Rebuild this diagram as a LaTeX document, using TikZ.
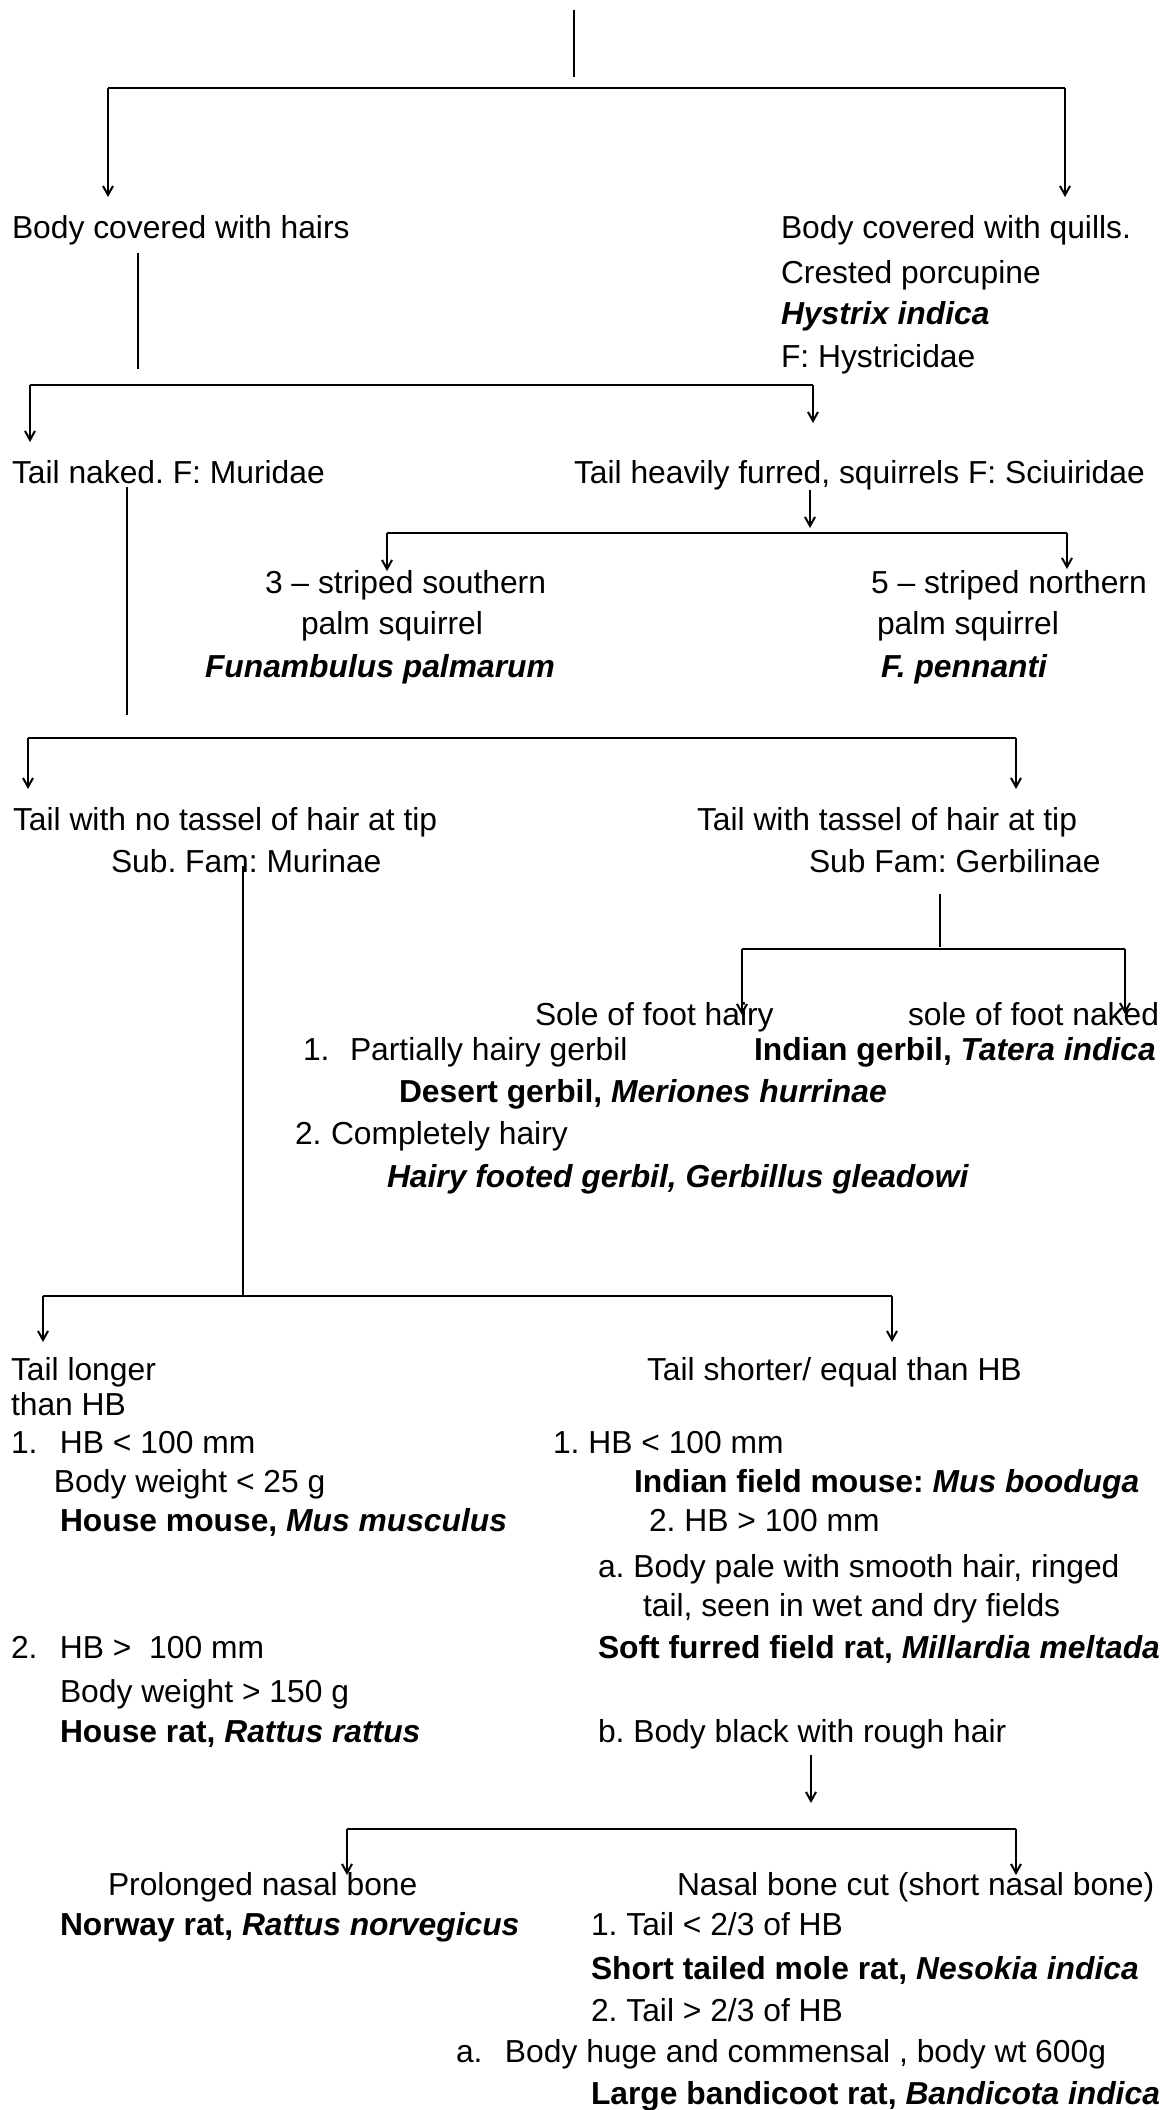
\documentclass[tikz,border=0pt]{standalone}
\usepackage{fontspec}
\setmainfont{Liberation Sans}
\usetikzlibrary{arrows.meta}
\newcommand{\bi}[1]{\textbf{\textit{#1}}}
\newcommand{\numbox}[2]{\makebox[#1][l]{#2}}
\frenchspacing
\begin{document}
\begin{tikzpicture}[x=0.5pt,y=-0.5pt,
  txt/.style={anchor=base west,inner sep=0pt,outer sep=0pt,font=\fontsize{15.9}{19}\selectfont\frenchspacing},
  ln/.style={line width=1pt},
  hl/.style={line width=1.2pt},
  arr/.style={line width=1pt,-{Straight Barb[length=4.5pt,width=5pt]}}]
\fill[white] (0,0) rectangle (1167,2110);
\useasboundingbox (0,0) rectangle (1167,2110);

% ---------------- texts ----------------
\node[txt] (bch) at (12,238) {Body covered with hairs};
\node[txt] (bcq) at (781,238) {Body covered with quills.};
\node[txt] (crp) at (781,283) {Crested porcupine};
\node[txt] (hys) at (781,324) {\bi{Hystrix indica}};
\node[txt] (hyf) at (781,367) {F: Hystricidae};

\node[txt] (tn) at (12,483) {Tail naked. F: Muridae};
\node[txt] (thf) at (574,483) {Tail heavily furred, squirrels F: Sciuiridae};

\node[txt] (s3a) at (265,593) {3 – striped southern};
\node[txt] (s3b) at (301,634) {palm squirrel};
\node[txt] (s3c) at (205,677) {\bi{Funambulus palmarum}};
\node[txt] (s5a) at (871,593) {5 – striped northern};
\node[txt] (s5b) at (877,634) {palm squirrel};
\node[txt] (s5c) at (881,677) {\bi{F. pennanti}};

\node[txt] (nt) at (13,830) {Tail with no tassel of hair at tip};
\node[txt] (mur) at (111,872) {Sub. Fam: Murinae};
\node[txt] (tt) at (697,830) {Tail with tassel of hair at tip};
\node[txt] (ger) at (809,872) {Sub Fam: Gerbilinae};

\node[txt] (sfh) at (535,1025) {Sole of foot hairy};
\node[txt] (sfn) at (908,1025) {sole of foot naked};
\node[txt] (ph) at (303,1060) {\numbox{23.5pt}{1.}Partially hairy gerbil};
\node[txt] (ig) at (754,1060) {\textbf{Indian gerbil,} \bi{Tatera indica}};
\node[txt] (dg) at (399,1102) {\textbf{Desert gerbil,} \bi{Meriones hurrinae}};
\node[txt] (ch) at (295,1144) {\numbox{18pt}{2.}Completely hairy};
\node[txt] (hfg) at (387,1187) {\bi{Hairy footed gerbil, Gerbillus gleadowi}};

\node[txt] (tl1) at (11,1380) {Tail longer};
\node[txt] (tl2) at (11,1415) {than HB};
\node[txt] (tse) at (647,1380) {Tail shorter/ equal than HB};
\node[txt] (l1) at (11,1453) {\numbox{24.5pt}{1.}HB < 100 mm};
\node[txt] (bw1) at (54,1492) {Body weight < 25 g};
\node[txt] (hm) at (60,1531) {\textbf{House mouse,} \bi{Mus musculus}};
\node[txt] (r1) at (553,1453) {1. HB < 100 mm};
\node[txt] (ifm) at (634,1492) {\textbf{Indian field mouse:} \bi{Mus booduga}};
\node[txt] (r2) at (649,1531) {2. HB > 100 mm};
\node[txt] (ra) at (598,1577) {a. Body pale with smooth hair, ringed};
\node[txt] (rb) at (643,1616) {tail, seen in wet and dry fields};
\node[txt] (l2) at (11,1658) {\numbox{24.5pt}{2.}HB >~ 100 mm};
\node[txt] (sfr) at (598,1658) {\textbf{Soft furred field rat,} \bi{Millardia meltada}};
\node[txt] (bw2) at (60,1702) {Body weight > 150 g};
\node[txt] (hr) at (60,1742) {\textbf{House rat,} \bi{Rattus rattus}};
\node[txt] (bb) at (598,1742) {b. Body black with rough hair};

\node[txt] (pnb) at (108,1895) {Prolonged nasal bone};
\node[txt] (nbc) at (677,1895) {Nasal bone cut (short nasal bone)};
\node[txt] (nr) at (60,1935) {\textbf{Norway rat,} \bi{Rattus norvegicus}};
\node[txt] (t1) at (591,1935) {1. Tail < 2/3 of HB};
\node[txt] (stm) at (591,1979) {\textbf{Short tailed mole rat,} \bi{Nesokia indica}};
\node[txt] (t2) at (591,2021) {2. Tail > 2/3 of HB};
\node[txt] (bh) at (456,2062) {\numbox{24.5pt}{a.}Body huge and commensal , body wt 600g};
\node[txt] (lbr) at (591,2104) {\textbf{Large bandicoot rat,} \bi{Bandicota indica}};

% ---------------- connector coordinates ----------------
\coordinate (top0) at (574,10);
\coordinate (top1) at (574,77);
\coordinate (h1l) at (108,88);
\coordinate (h1r) at (1065,88);
\coordinate (a1l) at (108,197);
\coordinate (a1r) at (1065,197);

\coordinate (v2t) at (138,253);
\coordinate (v2b) at (138,369);
\coordinate (h2l) at (30,385);
\coordinate (h2r) at (813,385);
\coordinate (a2l) at (30,442);
\coordinate (a2r) at (813,423);

\coordinate (v3t) at (127,487);
\coordinate (v3b) at (127,715);
\coordinate (a3t) at (810,490);
\coordinate (a3b) at (810,528);
\coordinate (h3l) at (387,533);
\coordinate (h3r) at (1067,533);
\coordinate (a3l) at (387,571);
\coordinate (a3r) at (1067,569);

\coordinate (h4l) at (28,738);
\coordinate (h4r) at (1016,738);
\coordinate (a4l) at (28,789);
\coordinate (a4r) at (1016,789);

\coordinate (vgt) at (940,894);
\coordinate (vgb) at (940,947);
\coordinate (hgl) at (742,949);
\coordinate (hgr) at (1125,949);
\coordinate (agl) at (742,1015);
\coordinate (agr) at (1125,1014);

\coordinate (vmt) at (243,866);
\coordinate (vmb) at (243,1296);
\coordinate (h5l) at (43,1296);
\coordinate (h5r) at (892,1296);
\coordinate (a5l) at (43,1342);
\coordinate (a5r) at (892,1342);

\coordinate (a6t) at (811,1755);
\coordinate (a6b) at (811,1803);
\coordinate (h6l) at (347,1829);
\coordinate (h6r) at (1016,1829);
\coordinate (a6l) at (347,1875);
\coordinate (a6r) at (1016,1875);

% ---------------- connectors ----------------
\draw[ln] (top0) -- (top1);
\draw[hl] (h1l) -- (h1r);
\draw[arr] (h1l) -- (a1l);
\draw[arr] (h1r) -- (a1r);

\draw[ln] (v2t) -- (v2b);
\draw[hl] (h2l) -- (h2r);
\draw[arr] (h2l) -- (a2l);
\draw[arr] (h2r) -- (a2r);

\draw[ln] (v3t) -- (v3b);
\draw[arr] (a3t) -- (a3b);
\draw[hl] (h3l) -- (h3r);
\draw[arr] (h3l) -- (a3l);
\draw[arr] (h3r) -- (a3r);

\draw[hl] (h4l) -- (h4r);
\draw[arr] (h4l) -- (a4l);
\draw[arr] (h4r) -- (a4r);

\draw[ln] (vgt) -- (vgb);
\draw[hl] (hgl) -- (hgr);
\draw[arr] (hgl) -- (agl);
\draw[arr] (hgr) -- (agr);

\draw[ln] (vmt) -- (vmb);
\draw[hl] (h5l) -- (h5r);
\draw[arr] (h5l) -- (a5l);
\draw[arr] (h5r) -- (a5r);

\draw[arr] (a6t) -- (a6b);
\draw[hl] (h6l) -- (h6r);
\draw[arr] (h6l) -- (a6l);
\draw[arr] (h6r) -- (a6r);
\end{tikzpicture}
\end{document}
